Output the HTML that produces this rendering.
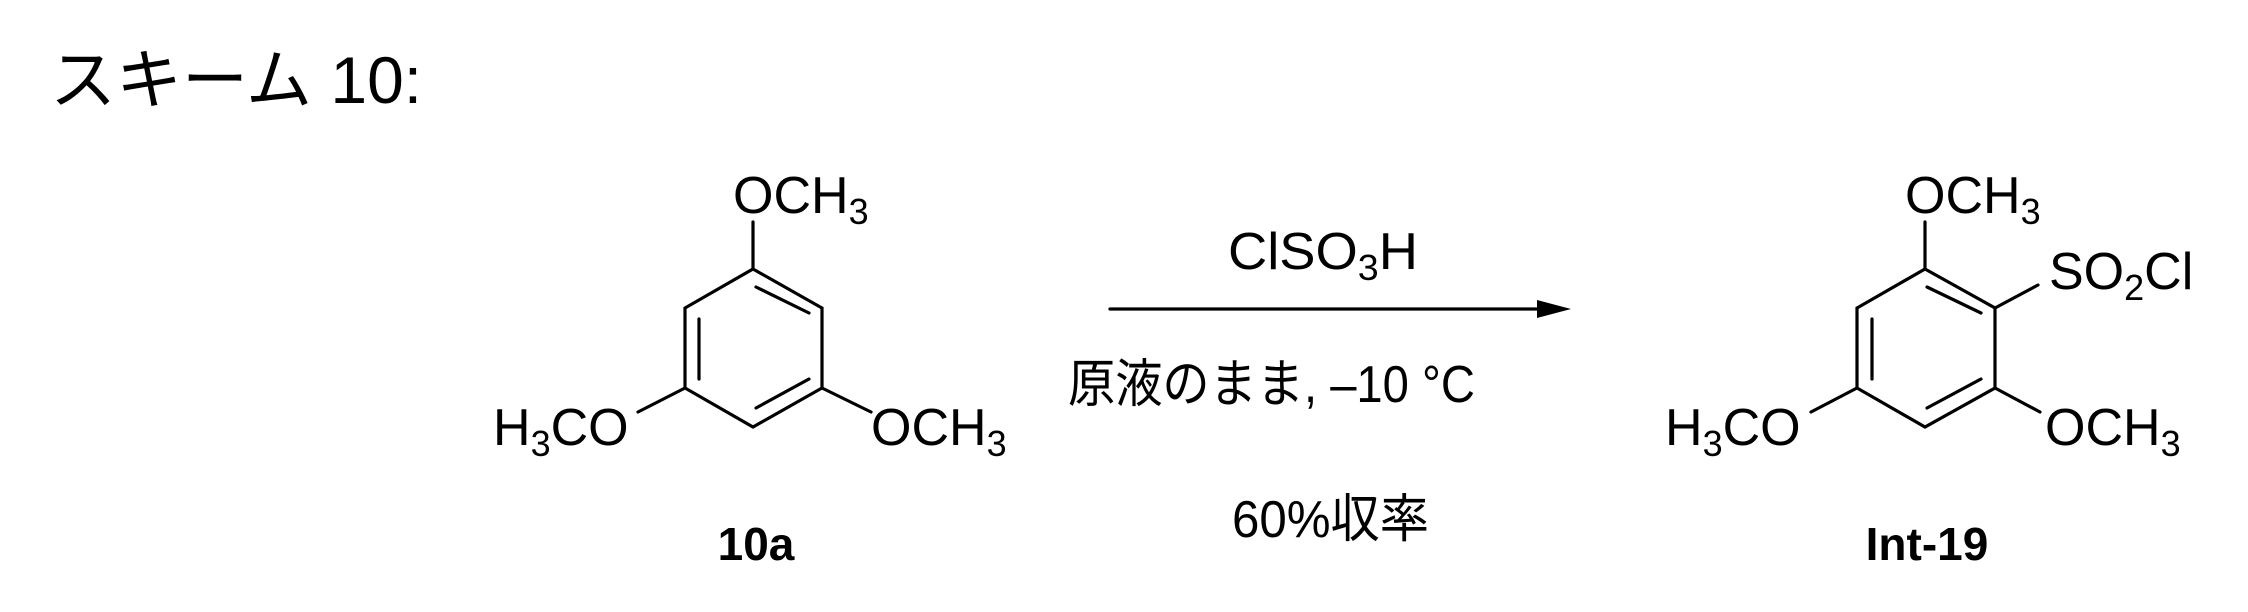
<!DOCTYPE html>
<html><head><meta charset="utf-8"><style>
html,body{margin:0;padding:0;background:#fff;}
svg{display:block;}
text{font-family:"Liberation Sans","Noto Sans CJK JP",sans-serif;fill:#000;}
</style></head><body>
<svg width="2248" height="612" viewBox="0 0 2248 612" xmlns="http://www.w3.org/2000/svg">
<text x="50" y="103" font-size="66">スキーム 10:</text>
<g stroke="#000" stroke-width="3.2" fill="none" stroke-linecap="round">
<polygon points="753,269 822,308 822,388 753,427 685,388 685,308"/>
<line x1="753" y1="269" x2="753" y2="222"/>
<line x1="685" y1="388" x2="638" y2="412"/>
<line x1="822" y1="388" x2="871" y2="412"/>
<line x1="699" y1="319" x2="699" y2="379"/>
<line x1="756" y1="287" x2="809" y2="313"/>
<line x1="809" y1="379" x2="756" y2="408"/>
<polygon points="1925,269 1995,308 1995,388 1925,427 1857,388 1857,308"/>
<line x1="1925" y1="269" x2="1925" y2="222"/>
<line x1="1995" y1="308" x2="2038" y2="285"/>
<line x1="1857" y1="388" x2="1811" y2="412"/>
<line x1="1995" y1="388" x2="2040" y2="412"/>
<line x1="1872" y1="319" x2="1872" y2="379"/>
<line x1="1927" y1="287" x2="1981" y2="313"/>
<line x1="1981" y1="379" x2="1927" y2="408"/>
<line x1="1110" y1="309" x2="1545" y2="309"/>
</g>
<polygon points="1571,309 1537,300 1537,318" fill="#000"/>
<g font-size="52">
<text x="733" y="213">OCH<tspan font-size="36" dy="11">3</tspan></text>
<text x="493" y="445">H<tspan font-size="36" dy="11">3</tspan><tspan dy="-11">CO</tspan></text>
<text x="871" y="445">OCH<tspan font-size="36" dy="11">3</tspan></text>
<text x="1905" y="213">OCH<tspan font-size="36" dy="11">3</tspan></text>
<text x="2049" y="289">SO<tspan font-size="36" dy="11">2</tspan><tspan dy="-11">Cl</tspan></text>
<text x="1665" y="445">H<tspan font-size="36" dy="11">3</tspan><tspan dy="-11">CO</tspan></text>
<text x="2045" y="445">OCH<tspan font-size="36" dy="11">3</tspan></text>
<text x="1228" y="269" textLength="190" lengthAdjust="spacingAndGlyphs">ClSO<tspan font-size="36" dy="11">3</tspan><tspan dy="-11">H</tspan></text>
<text x="1068" y="402" textLength="407" lengthAdjust="spacingAndGlyphs">原液のまま, –10 °C</text>
<text x="1232" y="537" textLength="197" lengthAdjust="spacingAndGlyphs">60%収率</text>
</g>
<text x="756" y="560" font-size="46" font-weight="bold" text-anchor="middle">10a</text>
<text x="1927" y="560" font-size="46" font-weight="bold" text-anchor="middle">Int-19</text>
</svg>
</body></html>
